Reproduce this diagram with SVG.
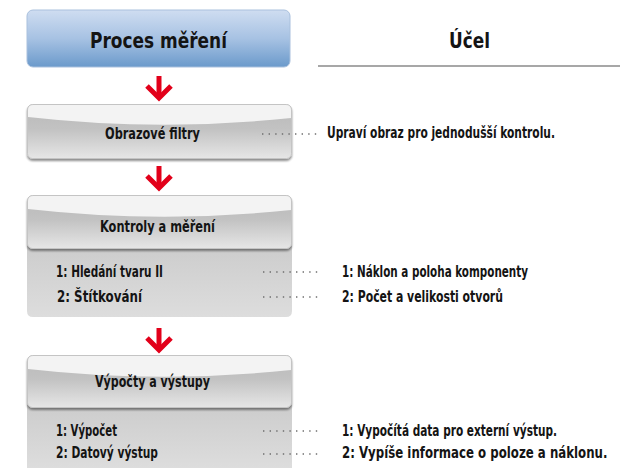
<svg xmlns="http://www.w3.org/2000/svg" width="620" height="468" viewBox="0 0 620 468">
  <style>
    .t { font-family: "DejaVu Sans Condensed", "DejaVu Sans", "Liberation Sans", sans-serif; font-stretch: condensed; font-weight: bold; fill: #141414; }
    .h1 { font-size: 22px; }
    .h2 { font-size: 15px; }
    .b { font-size: 15px; }
    .lead { stroke: #6e6e6e; stroke-width: 1.6; stroke-dasharray: 1.4 5.2; fill: none; }
    .arrow { stroke: #e2001a; stroke-width: 5; fill: none; stroke-linecap: butt; stroke-linejoin: miter; }
    .hdr { fill: url(#hdrGrad); stroke: #c4c4c4; stroke-width: 1; }
    .gloss { fill: #f3f3f3; }
    .body { fill: url(#bodyGrad); }
  </style>
  <defs>
    <linearGradient id="blueGrad" x1="0" y1="0" x2="0" y2="1">
      <stop offset="0" stop-color="#cfddf1"/>
      <stop offset="0.5" stop-color="#a7c2e3"/>
      <stop offset="1" stop-color="#6b9acb"/>
    </linearGradient>
    <linearGradient id="hdrGrad" x1="0" y1="0" x2="0" y2="1">
      <stop offset="0" stop-color="#b9b9b9"/>
      <stop offset="0.45" stop-color="#c2c2c2"/>
      <stop offset="1" stop-color="#e6e6e6"/>
    </linearGradient>
    <linearGradient id="bodyGrad" x1="0" y1="0" x2="0" y2="1">
      <stop offset="0" stop-color="#cbcbcb"/>
      <stop offset="1" stop-color="#dddddd"/>
    </linearGradient>
    <filter id="shadow" x="-5%" y="-20%" width="110%" height="150%">
      <feGaussianBlur in="SourceAlpha" stdDeviation="1.2"/>
      <feOffset dx="0" dy="1.5" result="o"/>
      <feComponentTransfer><feFuncA type="linear" slope="0.45"/></feComponentTransfer>
      <feMerge><feMergeNode/><feMergeNode in="SourceGraphic"/></feMerge>
    </filter>
  </defs>

  <!-- column heads -->
  <g id="head-process">
    <rect x="27" y="10" width="263" height="57" rx="6" fill="url(#blueGrad)" stroke="#a9c0dd" stroke-width="1"/>
    <text class="t h1" x="90" y="48" textLength="137" lengthAdjust="spacingAndGlyphs">Proces měření</text>
  </g>
  <g id="head-purpose">
    <text class="t h1" x="449" y="48" textLength="41" lengthAdjust="spacingAndGlyphs">Účel</text>
    <line x1="318" y1="66" x2="620" y2="66" stroke="#8a8a8a" stroke-width="1.6"/>
  </g>

  <!-- step 1 -->
  <g id="step-filters">
    <g filter="url(#shadow)">
      <rect class="hdr" x="27.5" y="104.5" width="264" height="54" rx="5"/>
    </g>
    <path class="gloss" d="M28,117 L28,110 Q28,105 33,105 L286,105 Q291,105 291,110 L291,118 Q160,132 28,117 Z"/>
    <text class="t h2" x="105" y="139" textLength="95" lengthAdjust="spacingAndGlyphs">Obrazové filtry</text>
  </g>

  <!-- step 2 -->
  <g id="step-inspection">
    <path class="body" d="M27,240 L292,240 L292,311 Q292,317 286,317 L33,317 Q27,317 27,311 Z"/>
    <g filter="url(#shadow)">
      <rect class="hdr" x="27.5" y="195.5" width="264" height="53" rx="5"/>
    </g>
    <path class="gloss" d="M28,209 L28,201 Q28,196 33,196 L286,196 Q291,196 291,201 L291,210 Q160,224 28,209 Z"/>
    <text class="t h2" x="100" y="232" textLength="115" lengthAdjust="spacingAndGlyphs">Kontroly a měření</text>
    <text class="t b" x="56" y="277" textLength="107" lengthAdjust="spacingAndGlyphs">1: Hledání tvaru II</text>
    <text class="t b" x="57" y="302" textLength="85" lengthAdjust="spacingAndGlyphs">2: Štítkování</text>
  </g>

  <!-- step 3 -->
  <g id="step-output">
    <path class="body" d="M27,400 L292,400 L292,468 L27,468 Z"/>
    <g filter="url(#shadow)">
      <rect class="hdr" x="27.5" y="355.5" width="264" height="52" rx="5"/>
    </g>
    <path class="gloss" d="M28,369 L28,361 Q28,356 33,356 L286,356 Q291,356 291,361 L291,370 Q160,384 28,369 Z"/>
    <text class="t h2" x="95" y="387" textLength="115" lengthAdjust="spacingAndGlyphs">Výpočty a výstupy</text>
    <text class="t b" x="56" y="436" textLength="61" lengthAdjust="spacingAndGlyphs">1: Výpočet</text>
    <text class="t b" x="56" y="458" textLength="102" lengthAdjust="spacingAndGlyphs">2: Datový výstup</text>
  </g>

  <!-- purpose notes -->
  <g id="note-filters">
    <text class="t b" x="327" y="138" textLength="228" lengthAdjust="spacingAndGlyphs">Upraví obraz pro jednodušší kontrolu.</text>
  </g>
  <g id="note-inspection">
    <text class="t b" x="342" y="277" textLength="186" lengthAdjust="spacingAndGlyphs">1: Náklon a poloha komponenty</text>
    <text class="t b" x="342" y="302" textLength="161" lengthAdjust="spacingAndGlyphs">2: Počet a velikosti otvorů</text>
  </g>
  <g id="note-output">
    <text class="t b" x="342" y="436" textLength="215" lengthAdjust="spacingAndGlyphs">1: Vypočítá data pro externí výstup.</text>
    <!-- long line: squeezed horizontally so it stays inside the right edge -->
    <text class="t b" transform="translate(342,458) scale(0.84,1)" x="0" y="0" textLength="316" lengthAdjust="spacingAndGlyphs">2: Vypíše informace o poloze a náklonu.</text>
  </g>

  <!-- connectors: flow arrows and dotted leaders -->
  <g id="connectors">
    <g class="arrow">
      <path d="M159,76 L159,97"/>
      <path d="M147,86 L159,98 L171,86"/>
      <path d="M159,166 L159,187"/>
      <path d="M147,176 L159,188 L171,176"/>
      <path d="M159,328 L159,349"/>
      <path d="M147,338 L159,350 L171,338"/>
    </g>
    <path class="lead" d="M262,134 L318,134"/>
    <path class="lead" d="M263,272 L321,272"/>
    <path class="lead" d="M263,297 L321,297"/>
    <path class="lead" d="M263,431 L321,431"/>
    <path class="lead" d="M263,454 L321,454"/>
  </g>
</svg>
